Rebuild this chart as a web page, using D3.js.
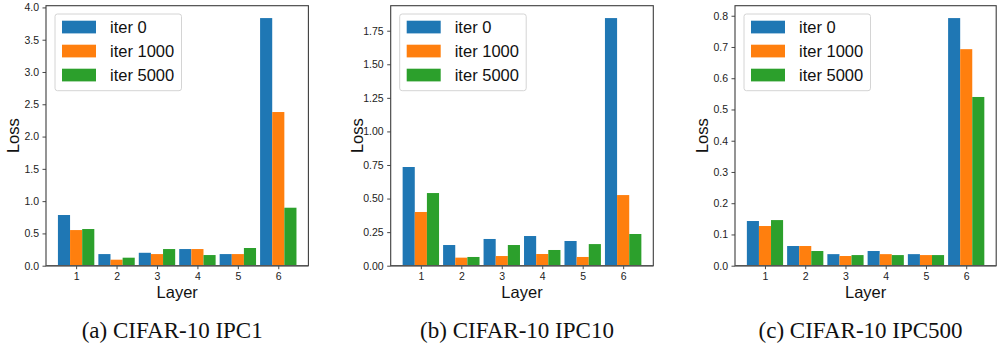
<!DOCTYPE html>
<html>
<head>
<meta charset="utf-8">
<script src="https://cdn.jsdelivr.net/npm/d3@7"></script>
<style>
  html, body { margin: 0; padding: 0; background: #fff; }
  svg { display: block; }
</style>
</head>
<body>
<svg id="chart" width="1000" height="343"></svg>
<script>
// ---- Data ----
const layers = [1, 2, 3, 4, 5, 6];
const seriesNames = ["iter 0", "iter 1000", "iter 5000"];
const seriesColors = ["#1f77b4", "#ff7f0e", "#2ca02c"];

// (a) CIFAR-10 IPC1
const ipc1Iter0    = [0.785, 0.18, 0.20, 0.258, 0.18, 3.835];
const ipc1Iter1000 = [0.552, 0.093, 0.18, 0.258, 0.18, 2.38];
const ipc1Iter5000 = [0.568, 0.124, 0.258, 0.165, 0.274, 0.898];
const ipc1Ticks    = [0, 0.5, 1.0, 1.5, 2.0, 2.5, 3.0, 3.5, 4.0];

// (b) CIFAR-10 IPC10
const ipc10Iter0    = [0.735, 0.154, 0.199, 0.221, 0.184, 1.844];
const ipc10Iter1000 = [0.40, 0.06, 0.072, 0.087, 0.065, 0.526];
const ipc10Iter5000 = [0.541, 0.065, 0.154, 0.117, 0.161, 0.236];
const ipc10Ticks    = [0, 0.25, 0.5, 0.75, 1.0, 1.25, 1.5, 1.75];

// (c) CIFAR-10 IPC500
const ipc500Iter0    = [0.143, 0.063, 0.037, 0.047, 0.037, 0.7925];
const ipc500Iter1000 = [0.127, 0.063, 0.031, 0.037, 0.034, 0.693];
const ipc500Iter5000 = [0.146, 0.047, 0.034, 0.034, 0.034, 0.540];
const ipc500Ticks    = [0, 0.1, 0.2, 0.3, 0.4, 0.5, 0.6, 0.7, 0.8];

const captions = ["(a) CIFAR-10 IPC1", "(b) CIFAR-10 IPC10", "(c) CIFAR-10 IPC500"];
const xLabel = "Layer";
const yLabel = "Loss";

// ---- Layout ----
const panels = [
  { series: [ipc1Iter0, ipc1Iter1000, ipc1Iter5000], ticks: ipc1Ticks, fmt: d3.format(".1f"),
    left: 46, width: 262.4 },
  { series: [ipc10Iter0, ipc10Iter1000, ipc10Iter5000], ticks: ipc10Ticks, fmt: d3.format(".2f"),
    left: 390.7, width: 262.6 },
  { series: [ipc500Iter0, ipc500Iter1000, ipc500Iter5000], ticks: ipc500Ticks, fmt: d3.format(".1f"),
    left: 735, width: 261.2 }
];
const plotTop = 5.7, plotBottom = 265.7;
const barW = 0.3;
const sans = "'Liberation Sans', Arial, Helvetica, sans-serif";
const serif = "'Liberation Serif', 'Times New Roman', Times, serif";

const svg = d3.select("#chart");

panels.forEach((p, pi) => {
  const g = svg.append("g");
  const allMax = d3.max(p.series.flat());
  const x = d3.scaleLinear().domain([1 - 1.5 * barW - 0.295, 6 + 1.5 * barW + 0.295])
    .range([p.left, p.left + p.width]);
  const y = d3.scaleLinear().domain([0, allMax * 1.05]).range([plotBottom, plotTop]);

  // bars
  p.series.forEach((vals, si) => {
    g.append("g").selectAll("rect").data(vals).join("rect")
      .attr("x", (d, i) => x(layers[i] + (si - 1) * barW - barW / 2))
      .attr("width", (d, i) => x(layers[i] + barW) - x(layers[i]))
      .attr("y", d => y(d))
      .attr("height", d => y(0) - y(d))
      .attr("fill", seriesColors[si]);
  });

  // axes
  const yAxis = d3.axisLeft(y).tickValues(p.ticks).tickFormat(p.fmt).tickSize(3.5).tickPadding(3.5);
  const xAxis = d3.axisBottom(x).tickValues(layers).tickFormat(d3.format("d")).tickSize(3.5).tickPadding(3.5);

  const ya = g.append("g").attr("transform", `translate(${p.left},0)`).call(yAxis);
  const xa = g.append("g").attr("transform", `translate(0,${plotBottom})`).call(xAxis);
  [ya, xa].forEach(a => {
    a.select(".domain").remove();
    a.selectAll(".tick line").attr("stroke", "#333").attr("stroke-width", 0.9);
    a.selectAll(".tick text").attr("fill", "#222").style("font-family", sans).style("font-size", "10.5px");
  });

  // frame (spines)
  g.append("rect")
    .attr("x", p.left).attr("y", plotTop)
    .attr("width", p.width).attr("height", plotBottom - plotTop)
    .attr("fill", "none").attr("stroke", "#3c3c3c").attr("stroke-width", 1.1);
  g.append("line")
    .attr("x1", p.left).attr("x2", p.left + p.width)
    .attr("y1", plotBottom).attr("y2", plotBottom)
    .attr("stroke", "#555").attr("stroke-width", 1.6);

  // labels
  const cx = p.left + p.width / 2;
  g.append("text").attr("x", cx).attr("y", 297.5).attr("text-anchor", "middle")
    .style("font-family", sans).style("font-size", "16.5px").attr("fill", "#111").text(xLabel);
  g.append("text")
    .attr("transform", `translate(${p.left - 27.5},${(plotTop + plotBottom) / 2}) rotate(-90)`)
    .attr("text-anchor", "middle")
    .style("font-family", sans).style("font-size", "16.5px").attr("fill", "#111").text(yLabel);

  // legend
  const lx = p.left + 9, ly = 14;
  const lg = g.append("g").attr("transform", `translate(${lx},${ly})`);
  lg.append("rect").attr("width", 126.5).attr("height", 76.7).attr("rx", 2.5)
    .attr("fill", "#fff").attr("fill-opacity", 0.8).attr("stroke", "#d4d4d4").attr("stroke-width", 1);
  seriesNames.forEach((name, si) => {
    const cy = 13 + si * 24;
    lg.append("rect").attr("x", 7).attr("y", cy - 6.3).attr("width", 34).attr("height", 12.7)
      .attr("fill", seriesColors[si]);
    lg.append("text").attr("x", 55).attr("y", cy).attr("dy", "0.36em")
      .style("font-family", sans).style("font-size", "16.5px").attr("fill", "#111").text(name);
  });

  // caption
  svg.append("text").attr("x", cx - 5).attr("y", 338.3).attr("text-anchor", "middle")
    .style("font-family", serif).style("font-size", "23px").attr("fill", "#111")
    .text(captions[pi]);
});
</script>
</body>
</html>
